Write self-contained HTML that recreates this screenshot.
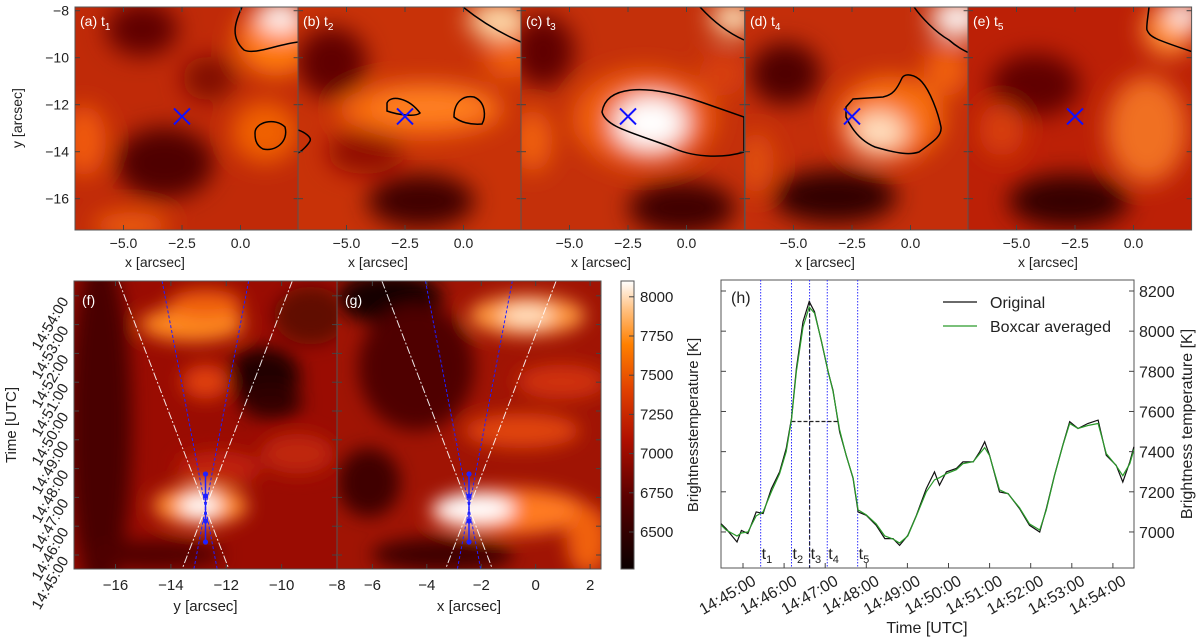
<!DOCTYPE html>
<html><head><meta charset="utf-8"><style>
body{margin:0;background:#fff;}
svg{display:block;font-family:"Liberation Sans",Arial,sans-serif;}
</style></head><body>
<svg id="fig" width="1200" height="643" viewBox="0 0 1200 643" xmlns="http://www.w3.org/2000/svg">
<defs>
<filter id="blur" x="-50%" y="-50%" width="200%" height="200%"><feGaussianBlur stdDeviation="12"/></filter>
<filter id="blur2" x="-50%" y="-50%" width="200%" height="200%"><feGaussianBlur stdDeviation="9"/></filter>
<linearGradient id="cmap" x1="0" y1="1" x2="0" y2="0">
<stop offset="0" stop-color="#0a0000"/><stop offset="0.25" stop-color="#5a0000"/><stop offset="0.45" stop-color="#b01000"/><stop offset="0.62" stop-color="#e04000"/><stop offset="0.78" stop-color="#ff8000"/><stop offset="0.9" stop-color="#ffc080"/><stop offset="1" stop-color="#ffffff"/>
</linearGradient>
</defs>
<g id="layer"></g>
</svg>
<script>
// ---- panel (h) light curve data ----
var timeMinutes = [-0.535,-0.41,-0.146,-0.04,0.12,0.32,0.49,0.69,0.89,1.05,1.18,1.30,1.46,1.61,1.74,1.91,2.07,2.19,2.35,2.51,2.68,2.80,3.00,3.24,3.45,3.65,3.81,4.01,4.22,4.46,4.66,4.78,4.95,5.19,5.35,5.60,5.76,5.88,6.00,6.24,6.45,6.73,6.97,7.22,7.38,7.58,7.78,7.95,8.15,8.39,8.64,8.84,9.08,9.24,9.41,9.51];
var originalTemp = [7041,7016,6950,7008,6992,7100,7092,7216,7299,7415,7565,7814,8047,8147,8097,7947,7798,7706,7499,7382,7266,7100,7083,7033,6967,6967,6933,6983,7083,7216,7299,7233,7299,7316,7349,7349,7399,7449,7382,7199,7191,7116,7033,7000,7116,7282,7432,7549,7515,7540,7557,7382,7332,7249,7349,7424];
var boxcarTemp = [7035,7010,6980,6995,7000,7080,7100,7200,7290,7400,7560,7800,8020,8120,8090,7950,7800,7700,7510,7380,7270,7110,7085,7040,6980,6965,6945,6980,7080,7200,7260,7270,7290,7310,7340,7350,7390,7420,7380,7210,7190,7120,7040,7010,7110,7280,7430,7540,7515,7530,7540,7390,7330,7280,7340,7410];
var eventTimes = [0.43,1.18,1.62,2.05,2.79];
var eventLabels = ["1","2","3","4","5"];
var hTickLabels = ["14:45:00","14:46:00","14:47:00","14:48:00","14:49:00","14:50:00","14:51:00","14:52:00","14:53:00","14:54:00"];
var hYTicks = [7000,7200,7400,7600,7800,8000,8200];
var fwhmLevel = 7550;
var fwhmRange = [1.18,2.33];
// ---- colorbar ----
var cbTicks = [6500,6750,7000,7250,7500,7750,8000];
// ---- axes ----
var topXTicks = [-5.0,-2.5,0.0];
var topYTicks = [-8,-10,-12,-14,-16];
var fXTicks = [-16,-14,-12,-10,-8];
var gXTicks = [-6,-4,-2,0,2];
var timeTicks = ["14:45:00","14:46:00","14:47:00","14:48:00","14:49:00","14:50:00","14:51:00","14:52:00","14:53:00","14:54:00"];

var NS="http://www.w3.org/2000/svg";
var L=document.getElementById('layer');
function mk(tag,attrs,parent,name,inter){var e=document.createElementNS(NS,tag);for(var k in attrs)e.setAttribute(k,attrs[k]);(parent||L).appendChild(e);


return e;}
function txt(x,y,s,size,anchor,parent,name,extra){var t=mk('text',Object.assign({x:x,y:y,'font-size':size,'text-anchor':anchor||'middle',fill:'#222'},extra||{}),parent,name);t.textContent=s;return t;}

// ===== top panels =====
var PX=[75,298,521,745,968], PW=223.6, PT=7, PH=223;
var bases=['#c02a08','#c83208','#c4300a','#c42e0a','#bc2006'];
var blobs=[
 [[.3,.1,.16,.12,'#600000'],[.4,.7,.22,.16,'#500000'],[.6,.32,.12,.1,'#800800'],[.9,.15,.18,.16,'#ff7a10'],[.92,.04,.1,.07,'#ffffff'],[.85,.56,.15,.14,'#f06000'],[.04,.6,.1,.16,'#f05a08'],[.25,.98,.17,.06,'#f06008']],
 [[.15,.25,.16,.16,'#600000'],[.55,.87,.24,.12,'#400000'],[.3,.65,.17,.1,'#900800'],[.55,.46,.37,.12,'#f86a10'],[.6,.44,.27,.08,'#ff8020'],[.9,.06,.14,.08,'#ffe0b0'],[.95,.22,.12,.1,'#f06010']],
 [[.1,.2,.14,.16,'#600000'],[.55,.5,.32,.22,'#f06010'],[.58,.52,.16,.12,'#ffffff'],[.72,.9,.24,.12,'#400000'],[.05,.6,.09,.14,'#f06010'],[.95,.05,.1,.07,'#ffe8c0'],[.9,.3,.1,.1,'#d84010']],
 [[.18,.3,.16,.14,'#500000'],[.4,.85,.28,.12,'#300000'],[.65,.5,.24,.19,'#f87010'],[.6,.56,.12,.09,'#ffe0c0'],[.95,.05,.12,.08,'#ffffff'],[.9,.28,.1,.12,'#f06010'],[.05,.7,.08,.14,'#e05010']],
 [[.3,.35,.2,.14,'#600000'],[.45,.87,.27,.12,'#350000'],[.8,.55,.18,.24,'#f07020'],[.9,.1,.12,.12,'#ff9030'],[.97,.03,.08,.06,'#ffffff'],[.15,.55,.1,.12,'#d84010']]
];
var contours=[
 ["M167,0 C160,15 155,30 169,43 C180,48 200,38 223,35","M180,126 C180,115 200,110 210,120 C214,135 200,145 188,142 C180,138 180,130 180,126 Z"],
 ["M0,123 C6,125 14,130 12,134 C10,138 4,144 0,146","M89,96 C92,88 110,90 122,106 C118,110 100,108 89,104 Z","M156,110 C156,95 165,88 176,90 C188,95 188,110 184,117 C172,118 162,115 156,110 Z","M165,0 C180,12 200,25 223,35"],
 ["M81,105 C85,80 120,75 180,95 L223,110 L223,145 C200,152 170,150 150,140 C110,125 85,120 81,105 Z","M179,0 C190,12 205,25 223,33"],
 ["M101,100 L108,92 L138,90 C148,88 152,82 157,71 C160,66 170,67 177,75 C185,84 193,105 196,120 C197,128 191,133 174,145 C165,148 154,147 130,140 C118,135 108,125 101,110 Z","M169,0 C176,10 190,25 204,33 C212,40 218,43 224,46"],
 ["M181,0 C180,10 178,20 179,23 C182,30 186,32 225,45"]
];
var labels=['a','b','c','d','e'];
for(var p=0;p<5;p++){
 var g=mk('g',{transform:'translate('+PX[p]+','+PT+')'},L,'panel-'+labels[p]);
 var cp=mk('clipPath',{id:'cp'+p},g,'clip');mk('rect',{x:0,y:0,width:PW,height:PH},cp,'clip-rect');
 var hm=mk('g',{'clip-path':'url(#cp'+p+')'},g,'heatmap-'+labels[p]);
 mk('rect',{x:0,y:0,width:PW,height:PH,fill:bases[p]},hm,'heatmap-base');
 var bg=mk('g',{filter:'url(#blur)'},hm,'heatmap-blobs');
 blobs[p].forEach(function(b){mk('ellipse',{cx:b[0]*PW,cy:b[1]*PH,rx:b[2]*PW,ry:b[3]*PH,fill:b[4]},bg,'intensity-patch');});
 contours[p].forEach(function(d){mk('path',{d:d,fill:'none',stroke:'#000','stroke-width':1.5},hm,'contour');});
 var cx=107, cy=3.7+(12.5-8)*23.5;
 mk('path',{d:'M'+(cx-8)+','+(cy-8)+'L'+(cx+8)+','+(cy+8)+'M'+(cx+8)+','+(cy-8)+'L'+(cx-8)+','+(cy+8),stroke:'#1010ff','stroke-width':2},g,'location-cross');
 mk('rect',{x:0,y:0,width:PW,height:PH,fill:'none',stroke:'#555','stroke-width':1},g,'panel-frame');
 var lt=txt(5,19,'('+labels[p]+')  t',14,'start',g,'panel-label',{fill:'#fff'});
 var ts=document.createElementNS(NS,'tspan');ts.setAttribute('font-size','10');ts.setAttribute('dy','4');ts.textContent=String(p+1);lt.appendChild(ts);
 topXTicks.forEach(function(v){var x=107+(v+2.5)*23.4;
  mk('line',{x1:x,y1:PH,x2:x,y2:PH-5,stroke:'#444'},g,'x-tick');mk('line',{x1:x,y1:0,x2:x,y2:5,stroke:'#444'},g,'x-tick');
  txt(x,PH+18,(v<0?'\u2212':'')+Math.abs(v).toFixed(1),14,'middle',g,'x-tick-label');});
 topYTicks.forEach(function(v){var y=3.7+(-8-v)*23.5;
  mk('line',{x1:0,y1:y,x2:5,y2:y,stroke:'#444'},g,'y-tick');mk('line',{x1:PW,y1:y,x2:PW-5,y2:y,stroke:'#444'},g,'y-tick');
  if(p==0)txt(-6,y+5,'\u2212'+Math.abs(v),14,'end',g,'y-tick-label');});
 txt(80,PH+37,'x [arcsec]',14,'middle',g,'x-axis-title');
}
txt(0,0,'y [arcsec]',14,'middle',L,'y-axis-title',{transform:'translate(22,118) rotate(-90)'});

// ===== f, g time-distance =====
var FT=281,FB=569;
function tY(i){return 555-i*28.8;}
var bp=[
 {x0:74,x1:337,vmin:-17.5,vmax:-8,ticks:fXTicks,title:'y [arcsec]',lab:'f',base:'#9a0c02',blobs:[[.1,.5,.12,.6,'#4a0000'],[.45,.15,.2,.06,'#ff8a20'],[.5,.08,.14,.05,'#f06010'],[.72,.33,.14,.1,'#200000'],[.75,.42,.12,.06,'#300000'],[.48,.78,.18,.07,'#ff9030'],[.48,.78,.08,.04,'#ffffff'],[.55,.65,.16,.06,'#c02008'],[.85,.6,.14,.07,'#c02808'],[.9,.12,.14,.1,'#601000'],[.3,.95,.27,.05,'#500000'],[.5,.35,.09,.06,'#e04010']]},
 {x0:337,x1:601,vmin:-7.3,vmax:2.4,ticks:gXTicks,title:'x [arcsec]',lab:'g',base:'#a01404',blobs:[[.2,.06,.2,.09,'#180000'],[.3,.3,.22,.22,'#500000'],[.72,.12,.22,.07,'#ff9a40'],[.72,.12,.1,.04,'#ffe0c0'],[.65,.8,.3,.08,'#ff7a20'],[.52,.79,.15,.05,'#ffffff'],[.7,.52,.22,.06,'#e04510'],[.85,.35,.17,.06,'#d03008'],[.4,.95,.27,.06,'#400000'],[.12,.7,.12,.12,'#400000'],[.95,.9,.08,.12,'#f06010']]}
];
var crossFrac=(508-FT)/(FB-FT);
var whiteTop=[.17,.83], blueTop=[.335,.664];
bp.forEach(function(P,pi){
 var W=P.x1-P.x0,H=FB-FT;
 var g=mk('g',{transform:'translate('+P.x0+','+FT+')'},L,'panel-'+P.lab);
 var cp=mk('clipPath',{id:'cpb'+pi},g,'clip');mk('rect',{x:0,y:0,width:W,height:H},cp,'clip-rect');
 var hm=mk('g',{'clip-path':'url(#cpb'+pi+')'},g,'heatmap-'+P.lab);
 mk('rect',{x:0,y:0,width:W,height:H,fill:P.base},hm,'heatmap-base');
 var bg=mk('g',{filter:'url(#blur2)'},hm,'heatmap-blobs');
 P.blobs.forEach(function(b){mk('ellipse',{cx:b[0]*W,cy:b[1]*H,rx:b[2]*W,ry:b[3]*H,fill:b[4]},bg,'intensity-patch');});
 var cy=508-FT, cx=0.5*W;
 function bot(t){return t+(0.5-t)/crossFrac;}
 whiteTop.forEach(function(t){mk('line',{x1:t*W,y1:0,x2:bot(t)*W,y2:H,stroke:'#fff','stroke-width':1,'stroke-dasharray':'8,2,2,2',opacity:.9},hm,'speed-line-white');});
 blueTop.forEach(function(t){mk('line',{x1:t*W,y1:0,x2:bot(t)*W,y2:H,stroke:'#2020ff','stroke-width':1,'stroke-dasharray':'3,2'},hm,'speed-line-blue');});
 mk('line',{x1:cx,y1:474-FT,x2:cx,y2:542-FT,stroke:'#2020ff','stroke-width':1.5},g,'time-span');
 [474,496,521,542].forEach(function(y){mk('circle',{cx:cx,cy:y-FT,r:2.6,fill:'#2020ff'},g,'time-marker');});
 mk('rect',{x:0,y:0,width:W,height:H,fill:'none',stroke:'#555'},g,'panel-frame');
 txt(8,24,'('+P.lab+')',14,'start',g,'panel-label',{fill:'#fff'});
 P.ticks.forEach(function(v){var x=(v-P.vmin)/(P.vmax-P.vmin)*W;
  mk('line',{x1:x,y1:H,x2:x,y2:H-5,stroke:'#444'},g,'x-tick');mk('line',{x1:x,y1:0,x2:x,y2:5,stroke:'#444'},g,'x-tick');
  txt(x,H+21,(v<0?'\u2212':'')+Math.abs(v),15,'middle',g,'x-tick-label');});
 timeTicks.forEach(function(s,i){var y=tY(i)-FT;
  mk('line',{x1:0,y1:y,x2:5,y2:y,stroke:'#444'},g,'y-tick');mk('line',{x1:W,y1:y,x2:W-5,y2:y,stroke:'#444'},g,'y-tick');
  if(pi==0)txt(0,0,s,15,'end',g,'time-tick-label',{transform:'translate(-5,'+(y+5)+') rotate(-60)'});});
 txt(W/2,H+42,P.title,15,'middle',g,'x-axis-title');
});
txt(0,0,'Time [UTC]',15,'middle',L,'time-axis-title',{transform:'translate(16,425) rotate(-90)'});

// colorbar
var cbg=mk('g',{},L,'colorbar');
mk('rect',{x:621,y:FT,width:13,height:FB-FT,fill:'url(#cmap)',stroke:'#555'},cbg,'colorbar-gradient');
function cbY(v){return 532-(v-6500)/250*39.2;}
cbTicks.forEach(function(v){var y=cbY(v);mk('line',{x1:629,y1:y,x2:634,y2:y,stroke:'#444'},cbg,'colorbar-tick');txt(640,y+5,String(v),15,'start',cbg,'colorbar-tick-label');});
txt(0,0,'Brightnesstemperature [K]',15,'middle',cbg,'colorbar-title',{transform:'translate(698,425) rotate(-90)'});

// ===== panel h =====
var HX0=721,HX1=1134,HT=280,HB=568;
function hx(m){return 743+m*41.1;}
function hy(k){return 291+(8200-k)*0.2008;}
var hg=mk('g',{},L,'panel-h');
mk('rect',{x:HX0,y:HT,width:HX1-HX0,height:HB-HT,fill:'#fff',stroke:'#555'},hg,'plot-frame');
eventTimes.forEach(function(t,i){var x=hx(t);mk('line',{x1:x,y1:HT,x2:x,y2:HB,stroke:'#3030ff','stroke-width':1,'stroke-dasharray':'1.5,1.5'},hg,'event-line-t'+eventLabels[i]);
 var tt=txt(x+1,HB-9,'t',16,'start',hg,'event-label');var s=document.createElementNS(NS,'tspan');s.setAttribute('font-size','11');s.setAttribute('dy','4');s.textContent=eventLabels[i];tt.appendChild(s);});
mk('line',{x1:hx(eventTimes[2]),y1:hy(8147),x2:hx(eventTimes[2]),y2:HB,stroke:'#223','stroke-width':1.2,'stroke-dasharray':'4,2'},hg,'peak-line');
mk('line',{x1:hx(fwhmRange[0]),y1:hy(fwhmLevel),x2:hx(fwhmRange[1]),y2:hy(fwhmLevel),stroke:'#222','stroke-width':1.2,'stroke-dasharray':'4,2'},hg,'fwhm-line');
function pts(arr){return timeMinutes.map(function(t,i){return hx(t).toFixed(1)+','+hy(arr[i]).toFixed(1);}).join(' ');}
mk('polyline',{points:pts(originalTemp),fill:'none',stroke:'#111','stroke-width':1.2},hg,'original-series');
mk('polyline',{points:pts(boxcarTemp),fill:'none',stroke:'#2a9a2a','stroke-width':1.2},hg,'boxcar-series');
hYTicks.forEach(function(v){var y=hy(v);mk('line',{x1:HX1,y1:y,x2:HX1-5,y2:y,stroke:'#444'},hg,'y-tick');mk('line',{x1:HX0,y1:y,x2:HX0+5,y2:y,stroke:'#444'},hg,'y-tick');txt(HX1+5,y+6,String(v),16,'start',hg,'y-tick-label');});
hTickLabels.forEach(function(s,i){var x=hx(i);mk('line',{x1:x,y1:HB,x2:x,y2:HB-5,stroke:'#444'},hg,'x-tick');
 txt(0,0,s,16,'end',hg,'x-tick-label',{transform:'translate('+(x+14)+','+(HB+16)+') rotate(-30)'});});
txt(927,633,'Time [UTC]',16,'middle',hg,'x-axis-title');
txt(0,0,'Brightness temperature [K]',16,'middle',hg,'y-axis-title',{transform:'translate(1192,424) rotate(-90)'});
txt(731,303,'(h)',16,'start',hg,'panel-label');
var lg=mk('g',{},hg,'legend');
mk('line',{x1:943,y1:302,x2:977,y2:302,stroke:'#111','stroke-width':1.3},lg,'legend-line-original');
txt(990,308,'Original',16,'start',lg,'legend-entry-original');
mk('line',{x1:943,y1:326,x2:977,y2:326,stroke:'#2a9a2a','stroke-width':1.3},lg,'legend-line-boxcar');
txt(990,332,'Boxcar averaged',16,'start',lg,'legend-entry-boxcar');
</script>
</body></html>
